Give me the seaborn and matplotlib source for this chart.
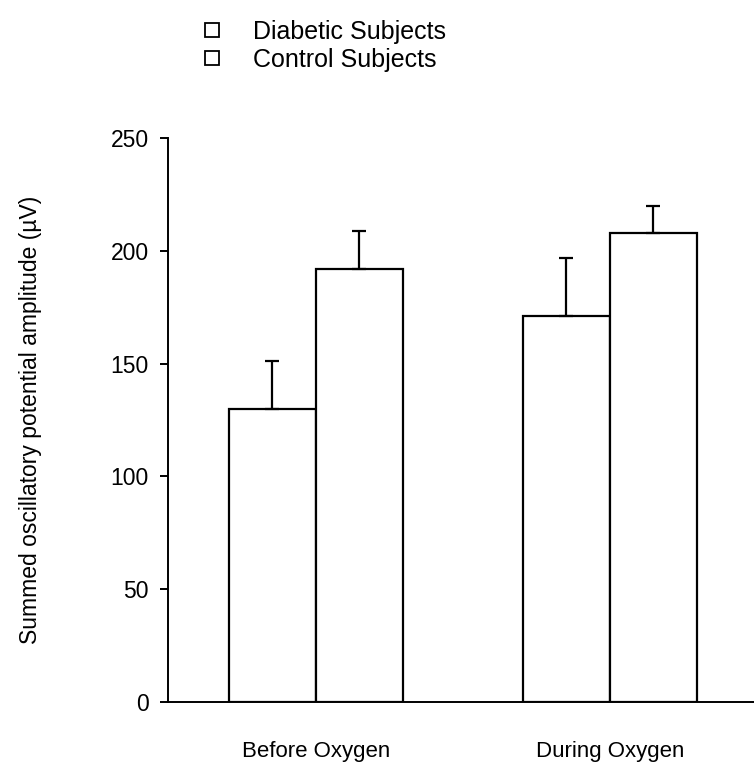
import matplotlib
matplotlib.use("Agg")
import matplotlib.pyplot as plt
import seaborn as sns
import pandas as pd
from matplotlib.lines import Line2D

conditions = ["Before Oxygen", "During Oxygen"]
groups = ["Diabetic Subjects", "Control Subjects"]
diabetic_mean = [130, 171]
control_mean = [192, 208]
diabetic_err = [21, 26]
control_err = [17, 12]
yticks = [0, 50, 100, 150, 200, 250]

df = pd.DataFrame({
    "condition": conditions * 2,
    "group": [groups[0]] * 2 + [groups[1]] * 2,
    "value": diabetic_mean + control_mean,
    "err": diabetic_err + control_err,
})

sns.set_theme(style="ticks")
plt.rcParams["font.family"] = ["Liberation Sans", "DejaVu Sans"]
for k in ["text.color", "axes.labelcolor", "xtick.color", "ytick.color", "axes.edgecolor"]:
    plt.rcParams[k] = "black"

fig = plt.figure(figsize=(7.54, 7.63), dpi=100)
ax = fig.add_axes([0.2228, 0.0799, 0.777, 0.7392])

sns.barplot(data=df, x="condition", y="value", hue="group", order=conditions,
            hue_order=groups, palette=["white", "white"], edgecolor="black",
            linewidth=1.6, width=0.592, errorbar=None, legend=False, ax=ax,
            saturation=1)

# upward-only error bars positioned from the drawn bars
for i, p in enumerate(ax.patches[:4]):
    gi = i // 2
    ci = i % 2
    err = (diabetic_err if gi == 0 else control_err)[ci]
    val = (diabetic_mean if gi == 0 else control_mean)[ci]
    xc = p.get_x() + p.get_width() / 2
    ax.errorbar([xc], [val], yerr=[[0], [err]], fmt="none", ecolor="black",
                elinewidth=1.6, capsize=5, capthick=1.6, zorder=1)

ax.set_xlim(-0.503, 1.49)
ax.set_ylim(0, 250)
ax.set_yticks(yticks)
ax.set_yticklabels([str(t) for t in yticks])
sns.despine(ax=ax)
ax.spines["left"].set_linewidth(1.4)
ax.spines["bottom"].set_linewidth(1.4)
ax.tick_params(axis="y", direction="out", length=6, width=1.4, labelsize=16.5, pad=8)
ax.tick_params(axis="x", length=0, labelsize=16, pad=28)
ax.set_xlabel("")
ax.set_ylabel("Summed oscillatory potential amplitude (\u00b5V)", fontsize=16.5)
ax.yaxis.set_label_coords(-0.215, 0.5)

handles = [Line2D([0], [0], marker="s", linestyle="none", markersize=9.5,
                  markerfacecolor="white", markeredgecolor="black",
                  markeredgewidth=1.3) for _ in groups]
fig.legend(handles, groups, loc="upper left", bbox_to_anchor=(0.248, 0.997),
           frameon=False, fontsize=18, handletextpad=1.35, labelspacing=0.15,
           handlelength=0.6, borderpad=0.2)

fig.savefig("out.png", dpi=100)
